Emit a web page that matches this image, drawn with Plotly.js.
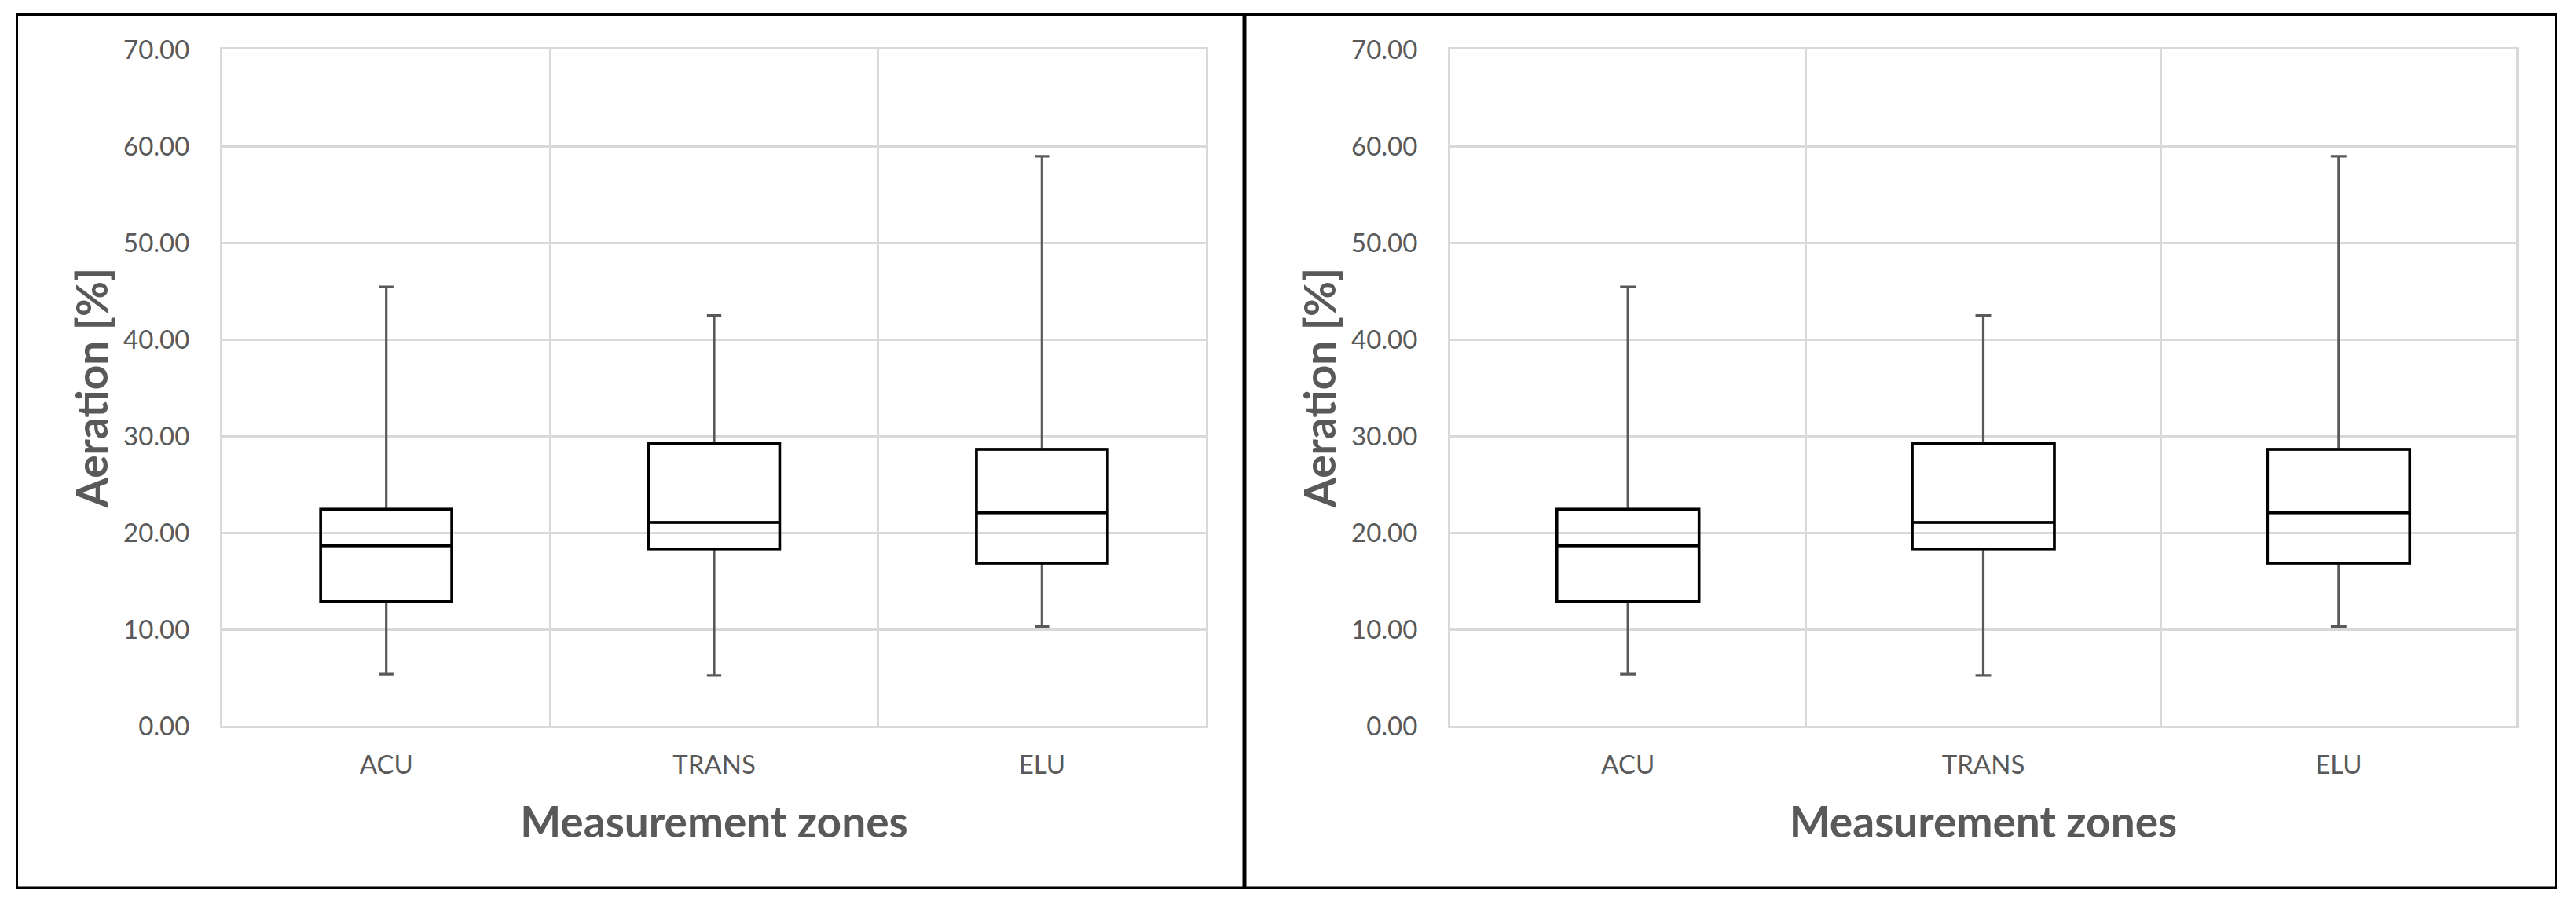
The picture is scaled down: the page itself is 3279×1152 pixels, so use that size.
<!DOCTYPE html>
<html>
<head>
<meta charset="utf-8">
<script src="https://cdn.plot.ly/plotly-3.0.1.min.js"></script>
<style>
  html, body { margin: 0; padding: 0; background: #ffffff; }
  #chart { width: 3279px; height: 1152px; }
</style>
</head>
<body>
<div id="chart"></div>
<script>
// Aeration by measurement zone (box-and-whisker summary statistics)
const categories = ['ACU', 'TRANS', 'ELU'];
const lowerWhisker = [5.35, 5.21, 10.30];
const q1Values = [12.87, 18.32, 16.83];
const medianValues = [18.63, 21.06, 22.06];
const q3Values = [22.41, 29.20, 28.62];
const upperWhisker = [45.44, 42.48, 58.96];
const yTickValues = [0, 10, 20, 30, 40, 50, 60, 70];

const W = 3279, H = 1152;
const textGray = '#595959';
const gridGray = '#d9d9d9';

// pixel -> paper helpers (margins are zero, so paper == page)
const px = v => v / W;
const py = v => 1 - v / H;

function panelTraces(xa, ya) {
  // whiskers (gray) drawn with the full five-number summary
  const whiskers = {
    type: 'box', xaxis: xa, yaxis: ya, x: categories,
    q1: q1Values, median: medianValues, q3: q3Values,
    lowerfence: lowerWhisker, upperfence: upperWhisker,
    boxpoints: false, width: 0.4, whiskerwidth: 0.11,
    line: { color: textGray, width: 3.2 },
    fillcolor: 'rgba(0,0,0,0)', showlegend: false, hoverinfo: 'skip'
  };
  // box body and median (black) on top
  const body = {
    type: 'box', xaxis: xa, yaxis: ya, x: categories,
    q1: q1Values, median: medianValues, q3: q3Values,
    lowerfence: q1Values, upperfence: q3Values,
    boxpoints: false, width: 0.4, whiskerwidth: 0,
    line: { color: '#000000', width: 3.5 },
    fillcolor: 'rgba(0,0,0,0)', showlegend: false, hoverinfo: 'skip'
  };
  return [whiskers, body];
}

const tickFont = { family: 'Lato, sans-serif', size: 33, color: textGray };
const titleFont = { family: 'Lato, sans-serif', size: 55, color: textGray, weight: 700 };

function xAxis(domain, anchor) {
  return {
    domain: domain, anchor: anchor, type: 'category', range: [-0.5, 2.5],
    tickson: 'boundaries', ticks: '', showgrid: true, gridcolor: gridGray, gridwidth: 3,
    showline: true, linecolor: gridGray, linewidth: 3, mirror: true,
    tickfont: tickFont, ticklabelstandoff: 18,
    title: { text: 'Measurement zones', font: titleFont, standoff: 37 },
    fixedrange: true, automargin: false
  };
}
function yAxis(domain, anchor) {
  return {
    domain: domain, anchor: anchor, range: [0, 70], tickvals: yTickValues,
    tickformat: '.2f', ticks: '', showgrid: true, gridcolor: gridGray, gridwidth: 3,
    zeroline: false, showline: true, linecolor: gridGray, linewidth: 3, mirror: true,
    tickfont: tickFont, ticklabelstandoff: 32,
    title: { text: 'Aeration [%]', font: titleFont, standoff: 2 },
    fixedrange: true, automargin: false
  };
}

const yDomain = [py(924), py(63)];
const layout = {
  width: W, height: H,
  margin: { l: 0, r: 0, t: 0, b: 0, pad: 0 },
  paper_bgcolor: '#ffffff', plot_bgcolor: '#ffffff',
  boxmode: 'overlay', showlegend: false,
  xaxis: xAxis([px(283), px(1535)], 'y'),
  yaxis: yAxis(yDomain, 'x'),
  xaxis2: xAxis([px(1846), px(3203)], 'y2'),
  yaxis2: yAxis(yDomain, 'x2'),
  shapes: [
    { type: 'rect', xref: 'paper', yref: 'paper',
      x0: px(21.5), x1: px(1583), y0: py(1130), y1: py(18.5),
      line: { color: '#000000', width: 3 }, fillcolor: 'rgba(0,0,0,0)', layer: 'above' },
    { type: 'rect', xref: 'paper', yref: 'paper',
      x0: px(1585), x1: px(3253.5), y0: py(1130), y1: py(18.5),
      line: { color: '#000000', width: 3 }, fillcolor: 'rgba(0,0,0,0)', layer: 'above' }
  ]
};

const data = [].concat(panelTraces('x', 'y'), panelTraces('x2', 'y2'));
Plotly.newPlot('chart', data, layout, { displayModeBar: false, staticPlot: true });
</script>
</body>
</html>
